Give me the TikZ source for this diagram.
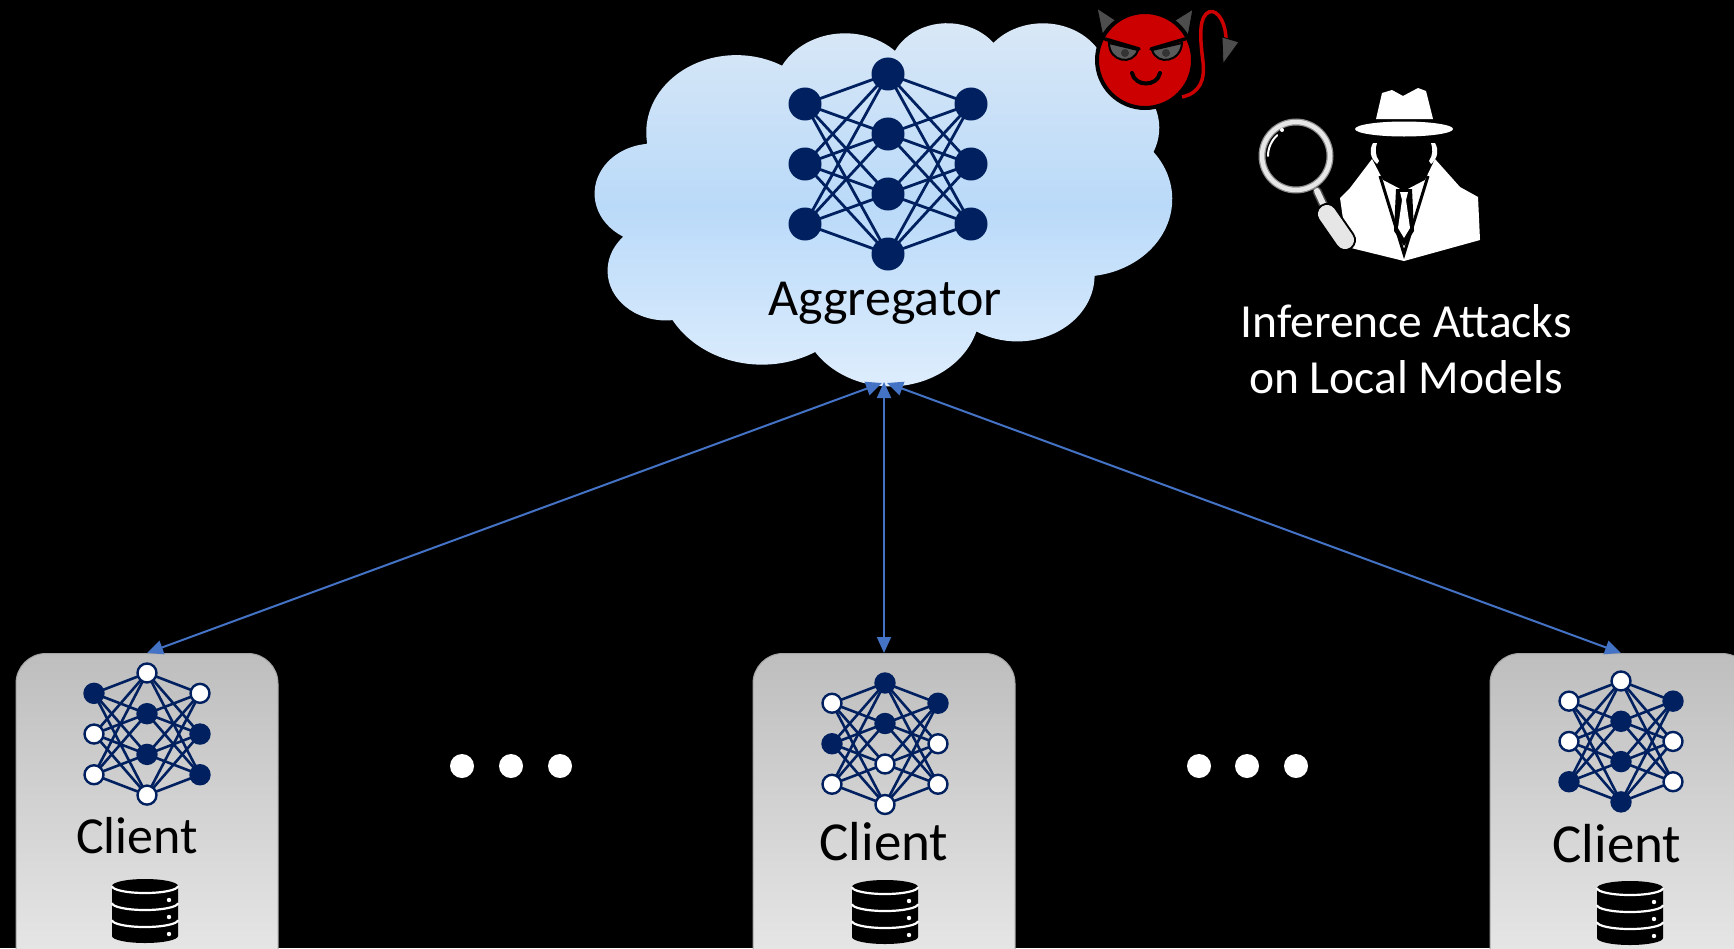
\documentclass[tikz,border=0pt]{standalone}
\usepackage{fontspec}
\setmainfont{Carlito}
\usetikzlibrary{arrows.meta}

\definecolor{navy}{HTML}{002060}
\definecolor{linkblue}{HTML}{4472C4}
\definecolor{devilred}{HTML}{CC0000}
\definecolor{horngray}{HTML}{4D4D4D}
\definecolor{eyegray}{HTML}{5A5A5A}
\definecolor{cloudtop}{HTML}{DAE8F6}
\definecolor{cloudmid}{HTML}{BADAF9}
\definecolor{cloudbot}{HTML}{DFEEFD}
\definecolor{boxtop}{HTML}{BEBEBE}
\definecolor{boxbot}{HTML}{EBEBEB}
\definecolor{glassgray}{HTML}{E7E6E6}

\tikzset{
  clientbox/.style={draw=black!35, line width=1pt, rounded corners=30pt,
    minimum width=262pt, minimum height=340pt, inner sep=0pt,
    top color=boxtop, bottom color=boxbot},
  neuron/.style={circle, draw=navy, inner sep=0pt},
  nnedge/.style={navy, line width=2.6pt},
  link/.style={linkblue, line width=2pt,
    arrows={Triangle[length=16pt,width=14pt]-Triangle[length=16pt,width=14pt]}},
  lbl/.style={inner sep=0pt, anchor=base},
}

% 3-4-3 network: prefix, centre x, top of middle column, row spacing,
% half width, neuron size, list of neuron/fill pairs
\newcommand\neuralnet[7]{%
  \foreach \i in {1,2,3}{%
    \coordinate (#1L\i) at ({#2-#5},{#3+(\i-0.5)*#4});
    \coordinate (#1R\i) at ({#2+#5},{#3+(\i-0.5)*#4});}
  \foreach \j in {1,2,3,4}{\coordinate (#1M\j) at (#2,{#3+(\j-1)*#4});}
  \foreach \i in {1,2,3}{\foreach \j in {1,2,3,4}{%
    \draw[nnedge] (#1L\i) -- (#1M\j);
    \draw[nnedge] (#1M\j) -- (#1R\i);}}
  \foreach \n/\f in {#7}{%
    \ifnum\f=1 \def\neuronfill{navy}\else\def\neuronfill{white}\fi
    \node[neuron, minimum size=#6, fill=\neuronfill] (#1n\n) at (#1\n) {};}%
}

% stacked-disk storage icon: centre x, centre y of the lid
\newcommand\database[2]{%
  \fill[black] ({#1-33},#2) -- ({#1-33},{#2+50})
    arc[start angle=180,end angle=0,x radius=33,y radius=7] -- ({#1+33},#2)
    arc[start angle=0,end angle=-180,x radius=33,y radius=7] -- cycle;
  \foreach \k in {0,17,34}{%
    \draw[white,line width=2.2pt] ({#1-33},{#2+\k})
      arc[start angle=180,end angle=0,x radius=33,y radius=7];}
  \foreach \k in {14,31,48}{\fill[white] ({#1+24},{#2+\k}) circle (2.2);}%
}

\begin{document}
\begin{tikzpicture}[x=1pt,y=-1pt]
\useasboundingbox (0,0) rectangle (1734,948);
\fill[black] (0,0) rectangle (1734,948);
\clip (0,0) rectangle (1734,948);

% ---------- aggregator cloud ----------
\begin{scope}[shift={(595,22)},x=13.356pt,y=-8.403pt]
\path[top color=cloudtop, bottom color=cloudbot, middle color=cloudmid]
  (3.900,14.370)
  arc[start angle=172.255,delta angle=128.109,x radius=6.753,y radius=9.190]
  arc[start angle=-152.02,delta angle=106.59,x radius=5.333,y radius=7.267]
  arc[start angle=-153.48,delta angle=116.15,x radius=4.365,y radius=5.945]
  arc[start angle=-139.70,delta angle=129.49,x radius=4.857,y radius=6.595]
  arc[start angle=-74.77,delta angle=97.98,x radius=5.333,y radius=7.273]
  arc[start angle=-37.54,delta angle=119.40,x radius=6.775,y radius=9.220]
  arc[start angle=0.46,delta angle=121.52,x radius=5.785,y radius=7.867]
  arc[start angle=16.85,delta angle=129.39,x radius=6.752,y radius=9.215]
  arc[start angle=58.99,delta angle=91.20,x radius=7.720,y radius=10.543]
  arc[start angle=83.31,delta angle=139.82,x radius=4.360,y radius=5.918]
  arc[start angle=120.36,delta angle=143.75,x radius=4.345,y radius=5.945]
  -- cycle;
\end{scope}

\begin{scope}[nnedge/.style={navy, line width=2.8pt}, neuron/.append style={line width=2pt}]
\neuralnet{g}{888}{74}{60}{83}{31pt}{L1/1,L2/1,L3/1,M1/1,M2/1,M3/1,M4/1,R1/1,R2/1,R3/1}
\end{scope}
\node[lbl] (aggtext) at (885,315) {\fontsize{52}{62}\selectfont Aggregator};

% ---------- malicious aggregator ----------
\filldraw[fill=horngray, draw=black, line width=1pt, line join=round]
  (1097,8) -- (1126,27) -- (1104,42) -- cycle;
\filldraw[fill=horngray, draw=black, line width=1pt, line join=round]
  (1193,9) -- (1187,42) -- (1164,27) -- cycle;
\filldraw[fill=devilred, draw=black, line width=4pt] (1145,60) circle (48);
\filldraw[fill=eyegray, draw=black, line width=2pt]
  (1109,43) .. controls (1109,62) and (1133,66) .. (1138,50) -- cycle;
\filldraw[fill=eyegray, draw=black, line width=2pt]
  (1152,50) .. controls (1157,66) and (1181,62) .. (1182,43) -- cycle;
\fill[black!80] (1125,53) circle (4);
\fill[black!80] (1166,53) circle (4);
\draw[black, line width=3.5pt, line cap=round] (1105,39) -- (1139,49);
\draw[black, line width=3.5pt, line cap=round] (1151,49) -- (1185,39);
\draw[black, line width=4pt, line cap=round]
  (1132,73) .. controls (1135,87) and (1157,87) .. (1160,73);
\draw[devilred, line width=3.5pt]
  (1182,97) .. controls (1200,93) and (1205,80) .. (1203,62)
  .. controls (1201,45) and (1198,22) .. (1206,14)
  .. controls (1214,6) and (1225,18) .. (1226,38);
\filldraw[fill=horngray, draw=black, line width=0.8pt]
  (1222,37) -- (1239,42) -- (1223,64) -- cycle;

% ---------- spy ----------
\fill[white] (1376,119) -- (1382,93) -- (1392,90) -- (1403,96) -- (1418,88)
  -- (1426,91) -- (1433,119) -- cycle;
\fill[white] (1404,129) ellipse [x radius=49, y radius=7.5];
\fill[white] (1373,143) .. controls (1369,150) and (1370,158) .. (1377,164)
  -- (1379,161) .. controls (1375,155) and (1375,149) .. (1377,143) -- cycle;
\fill[white] (1435,143) .. controls (1439,150) and (1438,158) .. (1431,164)
  -- (1429,161) .. controls (1433,155) and (1433,149) .. (1431,143) -- cycle;
\fill[white] (1347,247) -- (1340,198) -- (1350,188) -- (1372,159) -- (1383,180)
  -- (1404,191) -- (1425,180) -- (1435,159) -- (1460,187) -- (1478,197)
  -- (1480,240) -- (1404,261) -- cycle;
\draw[black, line width=3pt] (1380,176) -- (1404,254) -- (1428,176);
\fill[black] (1396,189) -- (1412,189) -- (1414,231) -- (1404,246) -- (1394,231) -- cycle;
\fill[white] (1400,192) -- (1408,192) -- (1406,200) -- (1410,228) -- (1404,238)
  -- (1398,228) -- (1402,200) -- cycle;
% magnifying glass
\draw[black!70, line width=9pt, line cap=round] (1317,191) -- (1324,206);
\draw[glassgray, line width=6pt, line cap=round] (1317,191) -- (1324,206);
\draw[black, line width=22pt, line cap=round] (1327,214) -- (1345,240);
\draw[glassgray, line width=18pt, line cap=round] (1327,214) -- (1345,240);
\draw[black!45, line width=7pt] (1296,156) circle (34);
\draw[glassgray, line width=4.5pt] (1296,156) circle (34);
\draw[white, line width=2pt, line cap=round] (1296,156) ++(180:28) arc[start angle=180, end angle=228, radius=28];
\fill[white] (1282,130) circle (2);

\node[lbl, text=white] (attacktext1) at (1406,337)
  {\fontsize{47.5}{57}\selectfont Inference Attacks};
\node[lbl, text=white] (attacktext2) at (1406,393)
  {\fontsize{47.5}{57}\selectfont on Local Models};

% ---------- clients ----------
\node[clientbox, anchor=north] (client1) at (147,653) {};
\node[clientbox, anchor=north] (client2) at (884,653) {};
\node[clientbox, anchor=north] (client3) at (1621,653) {};

\begin{scope}[neuron/.append style={line width=2.4pt}]
\neuralnet{a}{147}{673}{40.7}{53}{19pt}{L1/1,L2/0,L3/0,M1/0,M2/1,M3/1,M4/0,R1/0,R2/1,R3/1}
\neuralnet{b}{885}{683}{40.5}{53}{19pt}{L1/0,L2/1,L3/0,M1/1,M2/1,M3/0,M4/0,R1/1,R2/0,R3/0}
\neuralnet{c}{1621}{681}{40.3}{52}{19pt}{L1/0,L2/0,L3/1,M1/0,M2/1,M3/1,M4/1,R1/1,R2/0,R3/0}
\end{scope}

\node[lbl] (clientlabel1) at (137,853) {\fontsize{52}{62}\selectfont Client};
\node[lbl] (clientlabel2) at (884,860) {\fontsize{55}{66}\selectfont Client};
\node[lbl] (clientlabel3) at (1617,862) {\fontsize{55}{66}\selectfont Client};

\database{145}{886}
\database{885}{887}
\database{1630}{888}

% ellipses between clients
\foreach \x in {462,511,560,1199,1247,1296}{\fill[white] (\x,766) circle (12);}

% ---------- update exchange ----------
\coordinate (aggL) at (882,383);
\coordinate (aggM) at (884,382);
\coordinate (aggR) at (887,383);
\draw[link] (aggL) -- (client1.north);
\draw[link] (aggM) -- (client2.north);
\draw[link] (aggR) -- (client3.north);
\end{tikzpicture}
\end{document}
